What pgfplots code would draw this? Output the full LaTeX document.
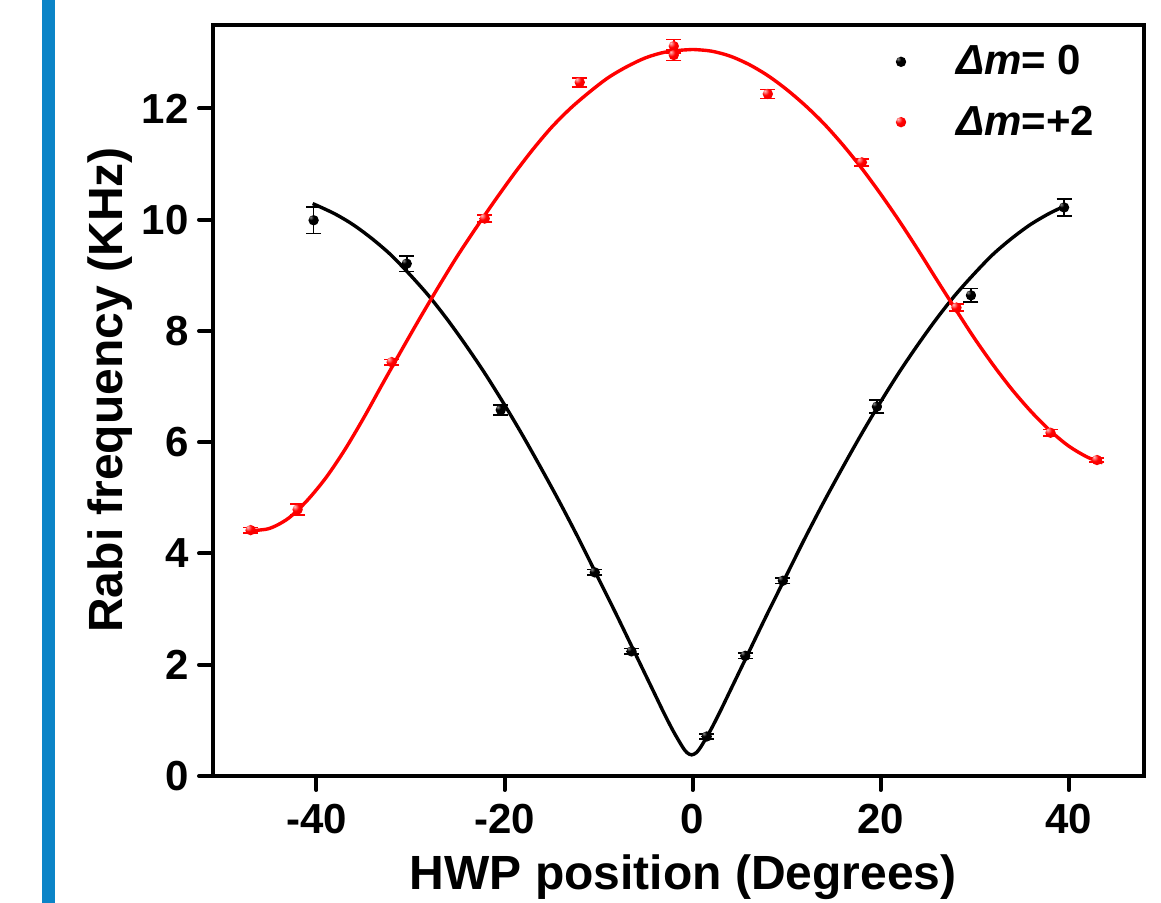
\documentclass[border=0pt]{standalone}
\usepackage{fontspec}
\setmainfont{Liberation Sans}
\usepackage{pgfplots}
\usepackage{pgfplotstable}
\pgfplotsset{compat=1.18}
\definecolor{sidebar}{RGB}{11,132,199}

% shaded sphere marks with the highlight up and to the left
\pgfdeclareradialshading{redball}{\pgfpoint{-15bp}{15bp}}{color(0bp)=(red!25!white); color(18bp)=(red); color(50bp)=(red!92!black); color(100bp)=(red!92!black)}
\pgfdeclareradialshading{blackball}{\pgfpoint{-15bp}{15bp}}{color(0bp)=(black!45!white); color(12bp)=(black); color(50bp)=(black); color(100bp)=(black)}
\pgfdeclareplotmark{rball}{\pgfpathcircle{\pgfpointorigin}{\pgfplotmarksize}\pgfshadepath{redball}{0}\pgfusepath{discard}}
\pgfdeclareplotmark{kball}{\pgfpathcircle{\pgfpointorigin}{\pgfplotmarksize}\pgfshadepath{blackball}{0}\pgfusepath{discard}}

% measured points: x, y, error
\pgfplotstableread{
x y e
-40.3 9.99 0.24
-30.4 9.21 0.14
-20.4 6.58 0.09
-10.4 3.66 0.05
-6.5 2.24 0.05
1.5 0.71 0.05
5.6 2.16 0.05
9.6 3.51 0.05
19.6 6.64 0.12
29.6 8.64 0.12
39.5 10.22 0.15
}\zerodata

\pgfplotstableread{
x y e
-47.0 4.42 0.05
-42.0 4.79 0.10
-32.0 7.44 0.05
-22.1 10.02 0.06
-12.0 12.47 0.08
-2.0 13.12 0.12
-2.0 12.96 0.10
8.0 12.26 0.08
18.0 11.03 0.06
28.06 8.42 0.06
38.06 6.17 0.06
43.0 5.68 0.04
}\twodata

% fit curves
\pgfplotstableread{
x y
-40.4 10.29
-38.1 10.11
-36.1 9.91
-34.1 9.66
-32.1 9.37
-30.1 9.02
-28.1 8.64
-26.1 8.21
-24.1 7.74
-22.1 7.24
-20.1 6.70
-18.1 6.13
-16.1 5.53
-14.1 4.91
-12.1 4.26
-10.1 3.58
-8.1 2.90
-6.1 2.20
-5.1 1.85
-4.1 1.50
-3.1 1.15
-2.1 0.82
-1.1 0.53
-0.6 0.42
-0.1 0.38
0.4 0.42
0.9 0.53
1.9 0.82
2.9 1.15
3.9 1.50
4.9 1.85
5.9 2.20
7.9 2.90
9.9 3.58
11.9 4.26
13.9 4.91
15.9 5.53
17.9 6.13
19.9 6.70
21.9 7.24
23.9 7.74
25.9 8.21
27.9 8.64
29.9 9.02
31.9 9.37
33.9 9.66
35.9 9.91
37.9 10.11
39.5 10.24
}\zerofit

\pgfplotstableread{
x y
-47.5 4.41
-47 4.41
-45 4.45
-43 4.63
-41 4.95
-39 5.36
-37 5.86
-35 6.43
-33 7.04
-31 7.64
-29 8.23
-27 8.80
-25 9.35
-23 9.86
-21 10.35
-19 10.82
-17 11.26
-15 11.66
-13 12.00
-11 12.29
-9 12.55
-7 12.75
-5 12.91
-3 13.01
-1 13.05
0 13.06
2 13.03
4 12.94
6 12.79
8 12.59
10 12.34
12 12.05
14 11.72
16 11.34
18 10.92
20 10.46
22 9.97
24 9.45
26 8.91
28 8.38
30 7.86
32 7.38
34 6.94
36 6.55
38 6.21
40 5.93
42 5.73
43.6 5.63
}\twofit

\begin{document}
\begin{tikzpicture}
\path[use as bounding box] (-106.5pt,-63.5pt) rectangle (474pt,388pt);
\fill[sidebar] (-85.5pt,-63.5pt) rectangle (-79pt,388pt);
\begin{axis}[
    at={(0pt,0pt)}, anchor=south west,
    scale only axis, width=465.5pt, height=375.5pt,
    xmin=-51, xmax=48, ymin=0, ymax=13.5,
    xtick={-40,-20,0,20,40}, ytick={0,2,...,12},
    minor tick num=0,
    tick align=outside, tick pos=left, major tick length=7pt,
    every tick/.style={black, line width=2pt, line cap=round},
    axis line style={line width=2pt, line cap=rect},
    /pgf/number format/assume math mode=true,
    ticklabel style={font=\fontsize{21}{21}\selectfont\bfseries, inner sep=0pt},
    xticklabel shift=7pt,
    yticklabel shift=5pt,
    xlabel={HWP position (Degrees)},
    ylabel={Rabi frequency (KHz)},
    label style={font=\fontsize{24}{24}\selectfont\bfseries},
    xlabel style={at={(axis description cs:0.505,-0.1518)}, anchor=base},
    ylabel style={at={(axis description cs:-0.0977,0.514)}, anchor=base},
    legend style={draw=none, fill=none, at={(axis description cs:0.733,0.973)},
        anchor=north west, inner sep=0pt, row sep=14pt, column sep=25pt,
        font=\fontsize{21}{21}\selectfont\bfseries,
        nodes={inner sep=0pt}, cells={anchor=west}},
    legend image code/.code={\draw[#1] plot coordinates {(0pt,0pt)};},
]
\addplot[black, line width=1.7pt, smooth, tension=0.5, forget plot] table {\zerofit};
\addplot[red, line width=1.7pt, smooth, tension=0.5, forget plot] table {\twofit};

\addplot[only marks, mark=kball, mark size=2.6pt,
    error bars/.cd, y dir=both, y explicit,
    error bar style={black, line width=0.8pt},
    error mark options={rotate=90, black, mark size=3.75pt, line width=0.8pt}]
    table [x=x, y=y, y error=e] {\zerodata};
\addlegendentry{{\itshape Δm}= 0}

\addplot[only marks, mark=rball, mark size=2.6pt,
    error bars/.cd, y dir=both, y explicit,
    error bar style={red, line width=0.8pt},
    error mark options={rotate=90, red, mark size=3.75pt, line width=0.8pt}]
    table [x=x, y=y, y error=e] {\twodata};
\addlegendentry{{\itshape Δm}=+2}
\end{axis}
\end{tikzpicture}
\end{document}
